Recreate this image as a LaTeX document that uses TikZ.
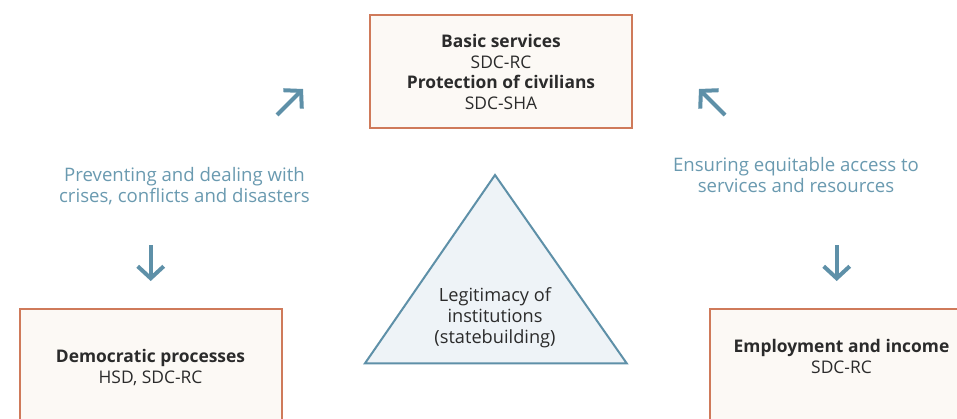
\documentclass[tikz,border=0pt]{standalone}
\usepackage{fontspec}
\setmainfont{Open Sans}
\usetikzlibrary{arrows.meta}
\definecolor{boxline}{HTML}{CF7A5A}
\definecolor{boxfill}{HTML}{FCF9F5}
\definecolor{arrowblue}{HTML}{5E90A8}
\definecolor{labelblue}{HTML}{6A9AB0}
\definecolor{trifill}{HTML}{EEF3F7}
\definecolor{textdark}{HTML}{2B2B2B}
\tikzset{
  box/.style={draw=boxline, fill=boxfill, line width=2pt, inner sep=0pt},
  boxtext/.style={text=textdark, align=center, font=\fontsize{17.4}{20.6}\selectfont, inner sep=0pt},
  tritext/.style={text=textdark, align=center, font=\fontsize{18.2}{21}\selectfont, inner sep=0pt},
  lbl/.style={text=labelblue, align=center, font=\fontsize{18.6}{21}\selectfont, inner sep=0pt},
  bigarrow/.style={draw=arrowblue, line width=4pt, -{Straight Barb[length=12pt,width=26pt]}},
  tri/.style={draw=arrowblue, fill=trifill, line width=2pt, line join=miter},
}
\begin{document}
\begin{tikzpicture}[x=1pt,y=-1pt]
\useasboundingbox (0,0) rectangle (957,418);
\clip (0,0) rectangle (957,418);
\fill[white] (0,0) rectangle (957,418);
% boxes
\node[box, minimum width=262pt, minimum height=113pt] (top) at (501,71.5) {};
\node[box, minimum width=262pt, minimum height=150pt] (left) at (150.5,384.3) {};
\node[box, minimum width=262pt, minimum height=150pt] (right) at (841,384.3) {};
% box texts
\node[boxtext] (toptext) at (501,72) {\bfseries Basic services\\SDC-RC\\\bfseries Protection of civilians\\SDC-SHA};
\node[boxtext] (lefttext) at (150.5,367.5) {\bfseries Democratic processes\\HSD, SDC-RC};
\node[boxtext] (righttext) at (841.5,356.5) {\bfseries Employment and income\\SDC-RC};
% triangle
\coordinate (tA) at (495,175);
\coordinate (tB) at (626.7,363.3);
\coordinate (tC) at (365,363.3);
\draw[tri] (tA) -- (tB) -- (tC) -- cycle;
\node[tritext] (tritext) at (495,318) {Legitimacy of\\institutions\\(statebuilding)};
% labels
\node[lbl] (lefl) at (184.5,186) {Preventing and dealing with\\crises, conflicts and disasters};
\node[lbl] (rigl) at (796,175.5) {Ensuring equitable access to\\services and resources};
% arrows
\coordinate (a1s) at (277,115); \coordinate (a1e) at (303,89);
\coordinate (a2s) at (725,115); \coordinate (a2e) at (699,89);
\coordinate (a3s) at (150.7,245); \coordinate (a3e) at (150.7,281);
\coordinate (a4s) at (836.7,245); \coordinate (a4e) at (836.7,281);
\draw[bigarrow] (a1s) -- (a1e);
\draw[bigarrow] (a2s) -- (a2e);
\draw[bigarrow] (a3s) -- (a3e);
\draw[bigarrow] (a4s) -- (a4e);
\end{tikzpicture}
\end{document}
